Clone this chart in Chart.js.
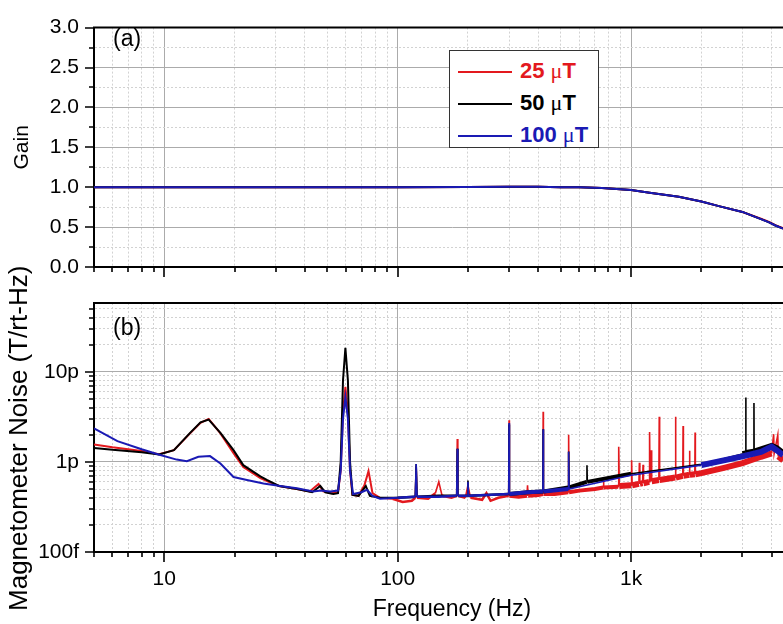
<!DOCTYPE html>
<html>
<head>
<meta charset="utf-8">
<script src="https://cdn.jsdelivr.net/npm/chart.js@4.4.1/dist/chart.umd.min.js"></script>
<style>
  body { margin: 0; background: #fff; overflow: hidden; }
  #wrap { position: relative; width: 783px; height: 624px; overflow: hidden; font-family: 'Liberation Sans', Arial, sans-serif; }
  #wrap canvas { position: absolute; left: 0; top: 0; }
  .tag { position: absolute; font-size: 23px; line-height: 23px; color: #000; }
  #legend { position: absolute; left: 449px; top: 50px; width: 148px; height: 96px; border: 1px solid #333; background: #fff; }
  #legend .row { position: absolute; left: 8px; height: 24px; font-size: 22px; font-weight: bold; line-height: 24px; white-space: nowrap; }
  #legend .swatch { display: inline-block; width: 54px; height: 2px; vertical-align: middle; margin-right: 8px; }
  #legend .mu { font-family: 'Liberation Serif', serif; font-weight: normal; }
</style>
</head>
<body>
<div id="wrap">
  <canvas id="noise" width="810" height="624"></canvas>
  <canvas id="gain" width="810" height="624"></canvas>
  <div class="tag" style="left:113px;top:27px">(a)</div>
  <div class="tag" style="left:113px;top:316px">(b)</div>
  <div id="legend"></div>
</div>
<script>
// series
const seriesLabels = ['25 μT', '50 μT', '100 μT'];
const seriesColors = ['#e3191e', '#000000', '#1a1ab4'];

// ticks (the original figure is cropped at the right, so the axis runs past the window)
const freqMin = 5;
const freqMax = 5840;
const freqTicks = [5, 6, 7, 8, 9, 10, 20, 30, 40, 50, 60, 70, 80, 90, 100,
  200, 300, 400, 500, 600, 700, 800, 900, 1000, 2000, 3000, 4000, 5000];
const freqLabels = {10: '10', 100: '100', 1000: '1k'};
const gainTicks = [0, 0.25, 0.5, 0.75, 1, 1.25, 1.5, 1.75, 2, 2.25, 2.5, 2.75, 3];
const noiseTicks = [0.1, 0.2, 0.3, 0.4, 0.5, 0.6, 0.7, 0.8, 0.9, 1, 2, 3, 4, 5, 6, 7, 8, 9, 10, 20, 30, 40, 50];
const noiseLabels = {0.1: '100f', 1: '1p', 10: '10p'};

// panel (a): gain vs frequency [Hz, gain]
const gain25 = [[5, 1.0], [10, 1.0], [20, 1.0], [50, 1.0], [100, 1.0], [200, 1.002], [300, 1.005], [400, 1.005],
  [500, 1.0], [600, 0.998], [750, 0.99], [1000, 0.964], [1200, 0.93], [1600, 0.88], [2000, 0.82], [2400, 0.76],
  [3000, 0.69], [3600, 0.605], [3900, 0.565], [4150, 0.525], [4480, 0.485]];
const gain50 = [[5, 1.0], [10, 1.0], [20, 1.0], [50, 1.0], [100, 1.0], [200, 1.002], [300, 1.005], [400, 1.005],
  [500, 1.0], [600, 0.998], [750, 0.99], [1000, 0.964], [1200, 0.93], [1600, 0.88], [2000, 0.82], [2400, 0.76],
  [3000, 0.69], [3600, 0.60], [3900, 0.56], [4150, 0.52], [4480, 0.48]];
const gain100 = [[5, 1.0], [10, 1.0], [20, 1.0], [50, 1.0], [100, 1.0], [200, 1.002], [300, 1.005], [400, 1.005],
  [500, 1.0], [600, 0.998], [750, 0.99], [1000, 0.964], [1200, 0.93], [1600, 0.88], [2000, 0.82], [2400, 0.76],
  [3000, 0.69], [3600, 0.60], [3900, 0.56], [4150, 0.52], [4480, 0.48]];

// panel (b): noise vs frequency [Hz, pT/rtHz]
const noise25 = [[5, 1.56], [6, 1.45], [8, 1.32], [9.5, 1.22], [11, 1.35], [12.9, 2.07], [14.3, 2.71], [15.5, 3.0],
  [17.4, 2.07], [19.8, 1.25], [21.8, 0.88], [25.8, 0.66], [28, 0.6], [31, 0.54], [37, 0.5], [42, 0.47], [45.8, 0.57],
  [48, 0.47], [52, 0.45], [55.5, 0.46], [57, 0.8], [58.3, 3.5], [59.7, 6.8], [61.2, 3.5], [62.5, 0.8], [64, 0.43],
  [68, 0.42], [72, 0.55], [75, 0.79], [78, 0.45], [84, 0.40], [95, 0.39], [105, 0.36], [115, 0.37], [119, 0.4],
  [120, 0.9], [121, 0.4], [135, 0.39], [145, 0.45], [150, 0.6], [155, 0.42], [170, 0.40], [179, 0.42], [180, 1.8],
  [181, 0.42], [195, 0.4], [200, 0.55], [205, 0.4], [230, 0.38], [240, 0.45], [250, 0.37], [270, 0.40], [299, 0.42],
  [300, 2.9], [301, 0.42], [330, 0.41], [358, 0.42], [360, 0.55], [362, 0.42], [400, 0.43], [419, 0.44], [420, 3.6],
  [421, 0.44], [470, 0.44], [538, 0.46], [540, 2.0], [542, 0.46], [600, 0.48], [700, 0.50], [760, 0.52], [762, 0.68],
  [764, 0.52], [880, 0.53], [885, 1.47], [890, 0.54], [1000, 0.55], [1005, 1.04], [1010, 0.55], [1080, 0.57],
  [1085, 0.98], [1090, 0.57], [1120, 0.58], [1125, 0.93], [1130, 0.58], [1195, 0.6], [1200, 2.15], [1205, 0.6],
  [1220, 1.35], [1225, 0.61], [1315, 0.63], [1320, 3.16], [1325, 0.63], [1545, 0.67], [1550, 3.16], [1555, 0.67],
  [1665, 0.7], [1670, 2.51], [1675, 0.7], [1775, 0.72], [1780, 1.33], [1785, 0.72], [1875, 0.73], [1880, 2.12],
  [1885, 0.73], [2000, 0.75], [2500, 0.86], [3000, 0.97], [3600, 1.14], [4000, 1.24], [4080, 2.03], [4100, 1.24],
  [4250, 1.98], [4270, 1.15], [4480, 1.04]];
const noise50 = [[5, 1.43], [6, 1.36], [8, 1.28], [9.5, 1.21], [11, 1.35], [12.9, 2.1], [14.3, 2.75], [15.5, 2.95],
  [17.4, 2.1], [19.8, 1.35], [21.8, 0.92], [25.8, 0.69], [27.5, 0.63], [31, 0.54], [37, 0.5], [43, 0.46], [46.6, 0.54],
  [49, 0.46], [53, 0.44], [55.5, 0.45], [57, 1.0], [58.3, 8], [59.7, 18.5], [61.2, 8], [62.5, 1.0], [64, 0.43],
  [68, 0.42], [73, 0.54], [76, 0.42], [84, 0.40], [100, 0.40], [119, 0.41], [120, 0.95], [121, 0.41], [150, 0.42],
  [179, 0.42], [180, 1.4], [181, 0.42], [199, 0.42], [200, 0.62], [201, 0.42], [240, 0.43], [299, 0.44], [300, 2.6],
  [301, 0.44], [360, 0.46], [419, 0.47], [420, 2.3], [421, 0.47], [538, 0.52], [540, 1.3], [542, 0.52], [645, 0.6],
  [647, 0.92], [649, 0.6], [1000, 0.74], [2000, 0.94], [3000, 1.22], [3095, 1.24], [3100, 5.2], [3105, 1.26],
  [3355, 1.3], [3360, 4.5], [3365, 1.3], [4000, 1.5], [4200, 1.42], [4480, 1.25]];
const noise100 = [[5, 2.35], [6.3, 1.7], [8, 1.38], [9.45, 1.21], [11.3, 1.06], [12.5, 1.02], [14, 1.14], [15.7, 1.16],
  [17.4, 0.96], [19.8, 0.68], [22.6, 0.63], [26.6, 0.575], [31.4, 0.54], [37, 0.51], [43.4, 0.47], [47, 0.48],
  [51.4, 0.47], [55.5, 0.48], [57, 0.8], [58.3, 3.0], [59.7, 5.2], [61.2, 3.0], [62.5, 0.8], [64.4, 0.44], [70, 0.46],
  [73.8, 0.49], [78, 0.42], [84, 0.39], [100, 0.40], [119, 0.41], [120, 0.95], [121, 0.41], [150, 0.41], [179, 0.42],
  [180, 1.4], [181, 0.42], [199, 0.42], [200, 0.6], [201, 0.42], [240, 0.43], [299, 0.44], [300, 2.7], [301, 0.44],
  [360, 0.46], [419, 0.47], [420, 2.3], [421, 0.47], [538, 0.5], [540, 1.3], [542, 0.5], [1000, 0.71], [2000, 0.92],
  [3000, 1.15], [3600, 1.29], [4000, 1.47], [4200, 1.35], [4480, 1.19]];

Chart.defaults.font.family = "'Liberation Sans', Arial, sans-serif";
Chart.defaults.color = '#000';

const isDecade = v => Math.abs(Math.log10(v) - Math.round(Math.log10(v))) < 1e-9;
const isHalf = v => Math.abs(v * 2 - Math.round(v * 2)) < 1e-9;
const toXY = arr => arr.map(p => ({x: p[0], y: p[1]}));

// thin for spikes, thicker noisy band at high frequency
function bandWidth(c) {
  const f = c.p0.parsed.x;
  if (f < 90) return 2;
  const r = c.p1.parsed.y / c.p0.parsed.y;
  if (r > 1.25 || r < 0.8) return 1.6;
  return f < 300 ? 2.5 : f < 800 ? 4 : 6;
}

// outward tick marks + top frame line
const frameTicks = {
  id: 'frameTicks',
  afterDraw(chart) {
    const {ctx, chartArea: a, scales: {x, y}} = chart;
    ctx.save();
    ctx.strokeStyle = '#000';
    ctx.lineWidth = 2;
    ctx.beginPath();
    ctx.moveTo(a.left - 1, a.top);
    ctx.lineTo(a.right, a.top);
    ctx.stroke();
    ctx.lineWidth = 1.6;
    ctx.beginPath();
    x.ticks.forEach(t => {
      const px = Math.round(x.getPixelForValue(t.value));
      ctx.moveTo(px, a.bottom);
      ctx.lineTo(px, a.bottom + (t.major ? 10 : 5));
    });
    y.ticks.forEach(t => {
      const py = Math.round(y.getPixelForValue(t.value));
      ctx.moveTo(a.left, py);
      ctx.lineTo(a.left - (t.major ? 9 : 5), py);
    });
    ctx.stroke();
    ctx.restore();
  }
};

function gridColor(isMajor) {
  return c => (c.tick && isMajor(c.tick.value)) ? '#ababab' : '#d2d2d2';
}
function gridDash(isMajor) {
  return c => (c.tick && !isMajor(c.tick.value)) ? [2, 2] : [];
}

function freqAxis(showLabels) {
  return {
    type: 'logarithmic',
    min: freqMin,
    max: freqMax,
    afterBuildTicks: s => { s.ticks = freqTicks.map(v => ({value: v, major: isDecade(v)})); },
    ticks: {
      display: showLabels,
      autoSkip: false,
      maxRotation: 0,
      padding: 15,
      font: {size: 21},
      callback: v => freqLabels[v] || ''
    },
    grid: {drawTicks: false, color: gridColor(isDecade), lineWidth: 1},
    border: {color: '#000', width: 2, dash: gridDash(isDecade)}
  };
}

function makeSets(list, widthFn) {
  return list.map((d, i) => ({
    label: seriesLabels[i],
    data: toXY(d),
    borderColor: seriesColors[i],
    borderWidth: 2,
    pointRadius: 0,
    tension: 0,
    order: 3 - i,
    segment: widthFn ? {borderWidth: widthFn} : undefined
  }));
}

new Chart(document.getElementById('gain'), {
  type: 'line',
  data: {datasets: makeSets([gain25, gain50, gain100])},
  options: {
    responsive: false,
    animation: false,
    events: [],
    layout: {padding: {left: 0, right: 0, top: 17, bottom: 624 - 267}},
    plugins: {legend: {display: false}, tooltip: {enabled: false}},
    scales: {
      x: freqAxis(false),
      y: {
        min: 0,
        max: 3,
        afterBuildTicks: s => { s.ticks = gainTicks.map(v => ({value: v, major: isHalf(v)})); },
        afterFit: s => { s.width = 94; },
        ticks: {autoSkip: false, padding: 15, font: {size: 21}, callback: v => isHalf(v) ? v.toFixed(1) : ''},
        grid: {drawTicks: false, color: gridColor(isHalf), lineWidth: 1},
        border: {color: '#000', width: 2, dash: gridDash(isHalf)},
        title: {display: true, text: 'Gain', font: {size: 21}, padding: {top: 10, bottom: 0}}
      }
    }
  },
  plugins: [frameTicks]
});

new Chart(document.getElementById('noise'), {
  type: 'line',
  data: {datasets: makeSets([noise25, noise50, noise100], bandWidth)},
  options: {
    responsive: false,
    animation: false,
    events: [],
    layout: {padding: {left: 0, right: 0, top: 303, bottom: 0}},
    plugins: {legend: {display: false}, tooltip: {enabled: false}},
    scales: {
      x: Object.assign(freqAxis(true), {
        afterFit: s => { s.height = 624 - 552; },
        title: {display: true, text: 'Frequency (Hz)', font: {size: 23}, padding: {top: 0, bottom: 1}}
      }),
      y: {
        type: 'logarithmic',
        min: 0.1,
        max: 58,
        afterBuildTicks: s => { s.ticks = noiseTicks.map(v => ({value: v, major: isDecade(v)})); },
        afterFit: s => { s.width = 94; },
        ticks: {autoSkip: false, padding: 15, font: {size: 21}, callback: v => noiseLabels[v] || ''},
        grid: {drawTicks: false, color: gridColor(isDecade), lineWidth: 1},
        border: {color: '#000', width: 2, dash: gridDash(isDecade)},
        title: {display: true, text: 'Magnetometer Noise (T/rt-Hz)   ', font: {size: 26}, padding: {top: 4, bottom: 0}}
      }
    }
  },
  plugins: [frameTicks]
});

// legend box for panel (a)
const legend = document.getElementById('legend');
const rowTops = [8, 40, 72];
seriesLabels.forEach((lab, i) => {
  const row = document.createElement('div');
  row.className = 'row';
  row.style.top = rowTops[i] + 'px';
  row.style.color = seriesColors[i];
  const sw = document.createElement('span');
  sw.className = 'swatch';
  sw.style.background = seriesColors[i];
  row.appendChild(sw);
  const parts = lab.split('μ');
  row.appendChild(document.createTextNode(parts[0]));
  const mu = document.createElement('span');
  mu.className = 'mu';
  mu.textContent = 'μ';
  row.appendChild(mu);
  row.appendChild(document.createTextNode(parts[1]));
  legend.appendChild(row);
});
</script>
</body>
</html>
